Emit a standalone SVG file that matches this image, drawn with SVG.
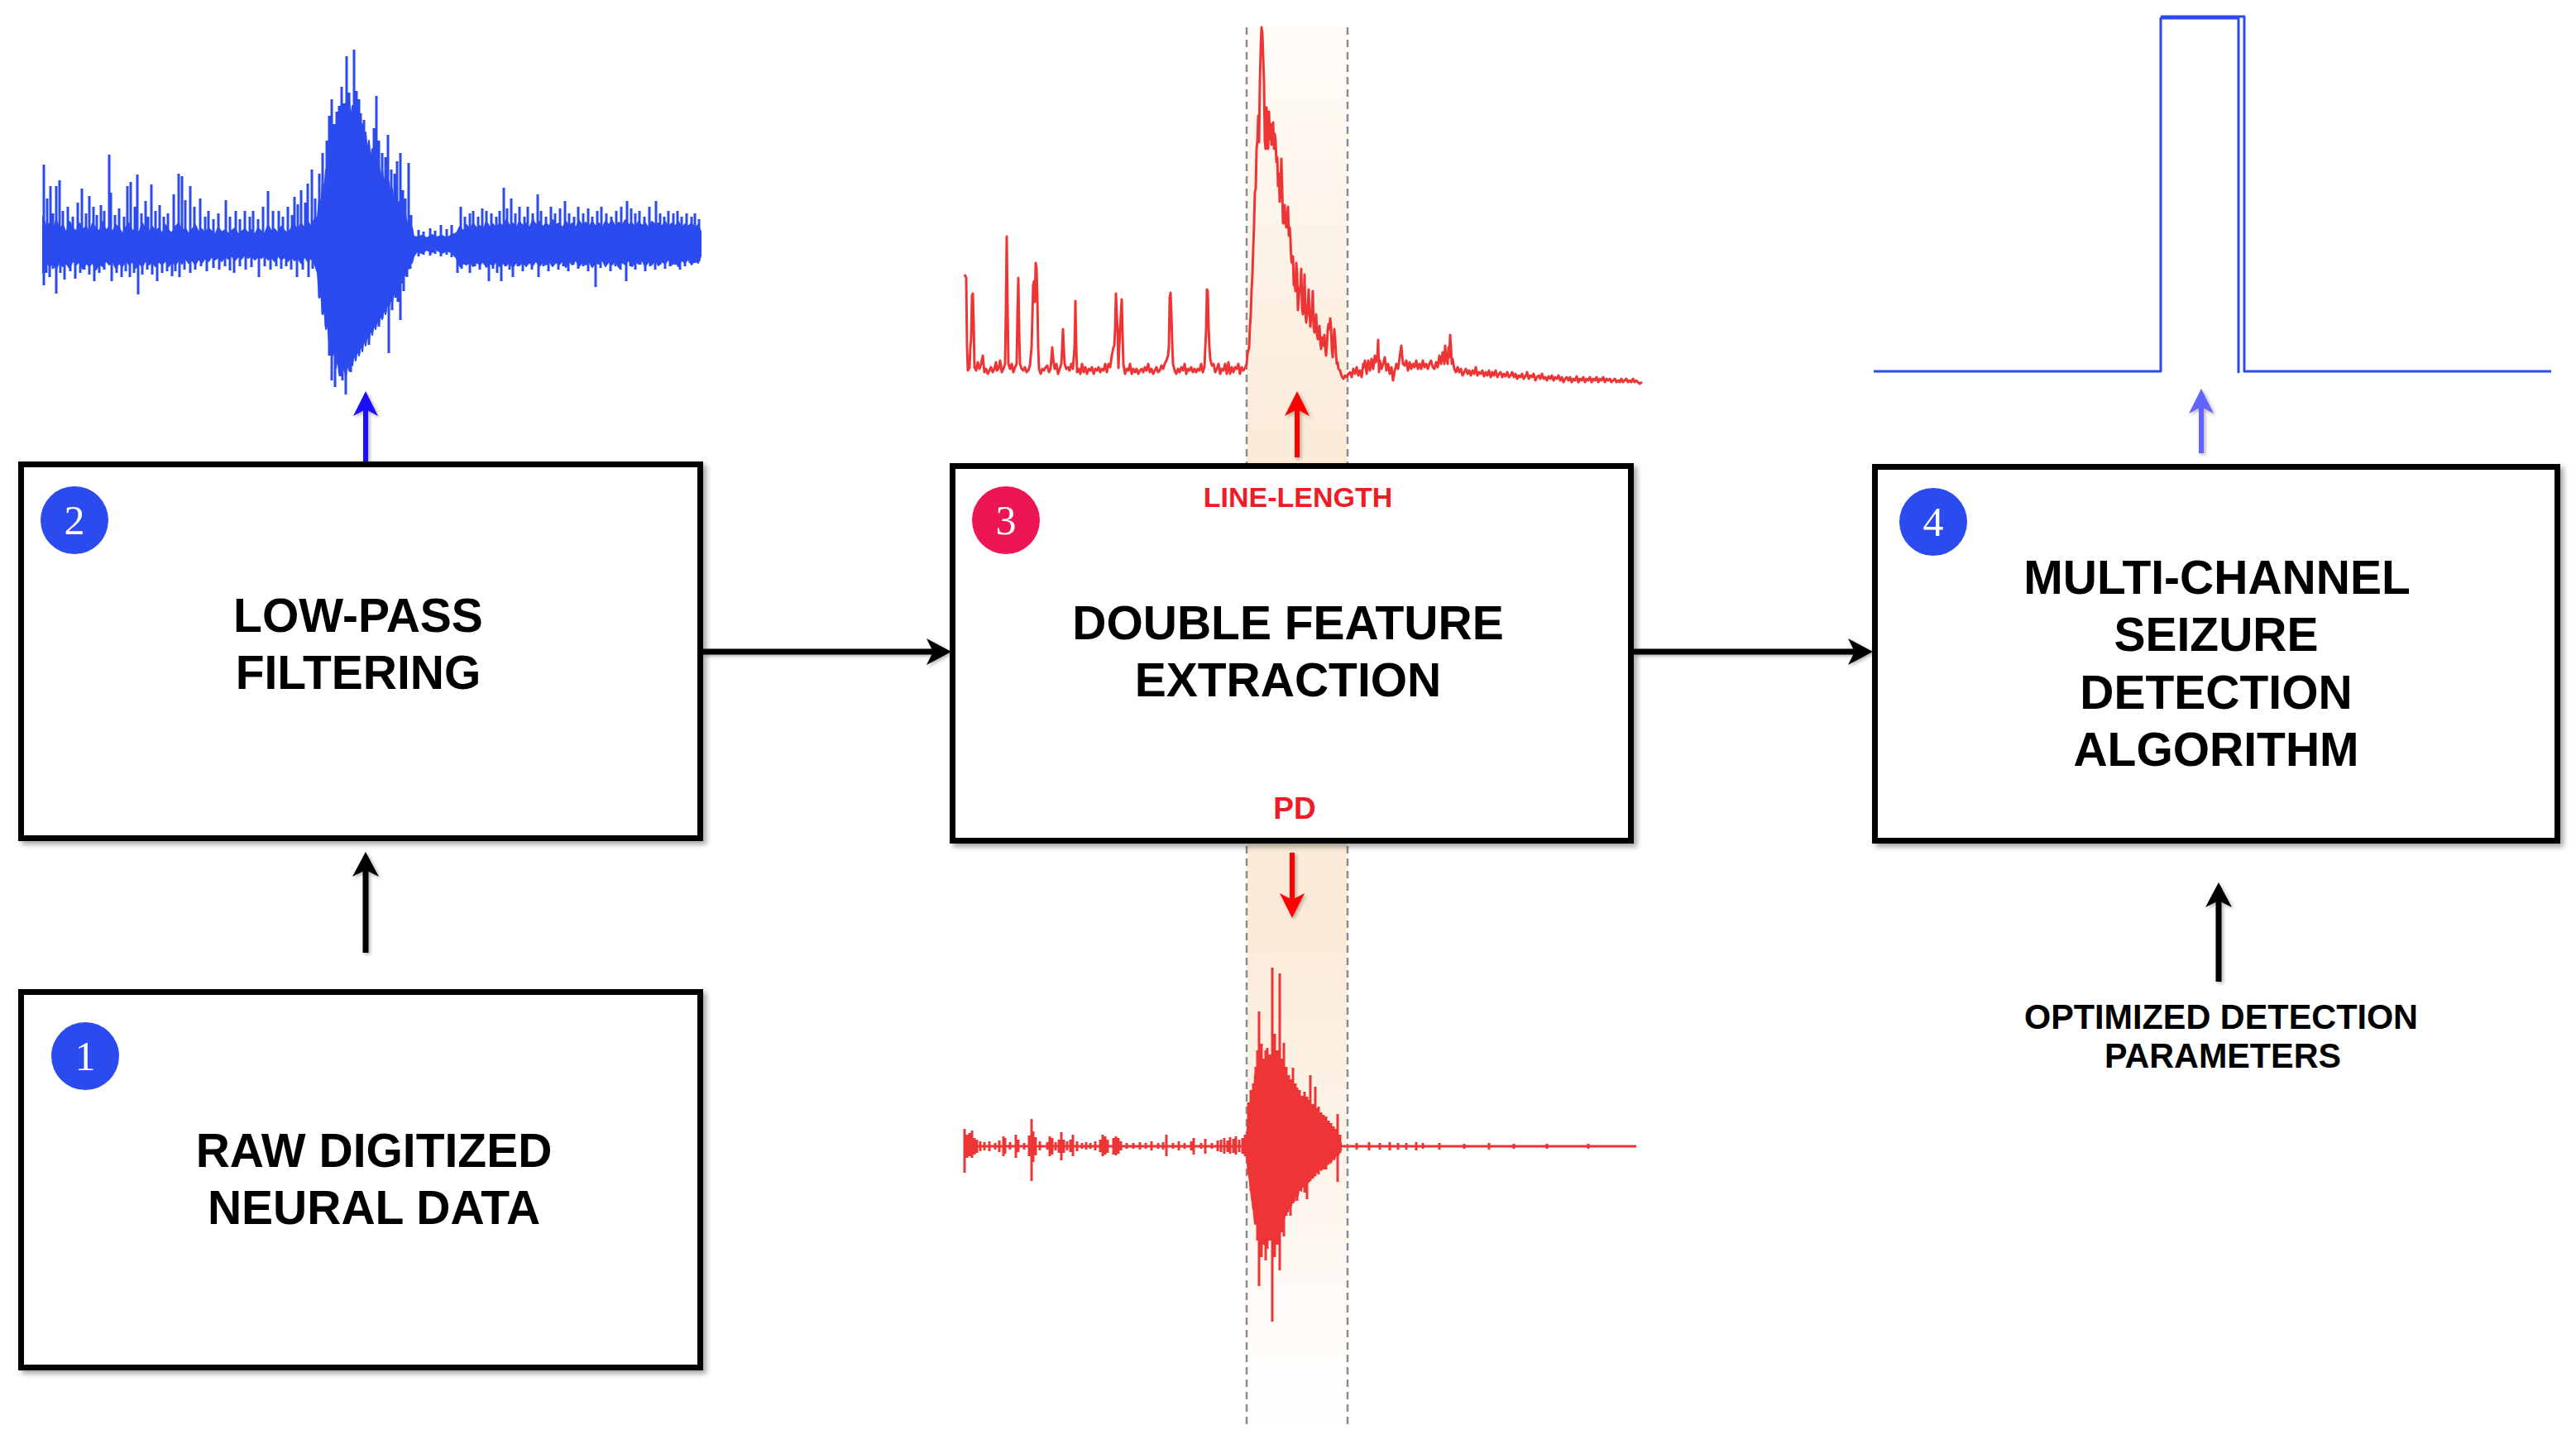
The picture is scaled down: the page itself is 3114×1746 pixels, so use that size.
<svg xmlns="http://www.w3.org/2000/svg" width="3114" height="1746" viewBox="0 0 3114 1746">
<defs>
<style>
.box{fill:#fff;stroke:#000;stroke-width:7}
.lbl{font-family:"Liberation Sans",Arial,sans-serif;font-weight:bold;font-size:57px;text-anchor:middle;fill:#000}
.sub{font-family:"Liberation Sans",Arial,sans-serif;font-weight:bold;text-anchor:middle;fill:#EE1C25}
.num{font-family:"Liberation Serif","Times New Roman",serif;font-size:50px;fill:#fff;text-anchor:middle}
.conn{fill:none;stroke:#000;stroke-width:7}
.wblue{fill:none;stroke:#2B4BEE;stroke-width:3;stroke-linejoin:round}
.wred{fill:none;stroke:#EE3535;stroke-width:3;stroke-linejoin:round}
.dash{stroke:#8C8C8C;stroke-width:2.5;stroke-dasharray:9 6}
</style>
<filter id="sh" x="-5%" y="-5%" width="110%" height="110%">
<feDropShadow dx="4" dy="4" stdDeviation="3" flood-color="#000" flood-opacity="0.35"/>
</filter>
<filter id="sh2" x="-20%" y="-20%" width="140%" height="140%">
<feDropShadow dx="2" dy="2" stdDeviation="2" flood-color="#000" flood-opacity="0.3"/>
</filter>
<linearGradient id="band" x1="0" y1="33" x2="0" y2="1724" gradientUnits="userSpaceOnUse">
<stop offset="0" stop-color="#FFFCF8"/>
<stop offset="0.3" stop-color="#FBEBD9"/>
<stop offset="0.65" stop-color="#FBEBD9"/>
<stop offset="1" stop-color="#FFFFFF"/>
</linearGradient>
<marker id="ahK" markerUnits="userSpaceOnUse" viewBox="-32 -17 34 34" refX="-20" refY="0" markerWidth="34" markerHeight="34" orient="auto"><path d="M0,0 L-30,-16 L-22,0 L-30,16 Z" fill="#000"/></marker>
<marker id="ahB" markerUnits="userSpaceOnUse" viewBox="-32 -17 34 34" refX="-20" refY="0" markerWidth="34" markerHeight="34" orient="auto"><path d="M0,0 L-30,-15 L-22,0 L-30,15 Z" fill="#1A0DFF"/></marker>
<marker id="ahR" markerUnits="userSpaceOnUse" viewBox="-32 -17 34 34" refX="-20" refY="0" markerWidth="34" markerHeight="34" orient="auto"><path d="M0,0 L-30,-15 L-22,0 L-30,15 Z" fill="#FF0000"/></marker>
<marker id="ahL" markerUnits="userSpaceOnUse" viewBox="-32 -17 34 34" refX="-20" refY="0" markerWidth="34" markerHeight="34" orient="auto"><path d="M0,0 L-30,-15 L-22,0 L-30,15 Z" fill="#6464FF"/></marker>
</defs>
<rect width="3114" height="1746" fill="#fff"/>

<g id="feature-band">
<rect x="1507" y="33" width="122" height="1691" fill="url(#band)"/>
<line class="dash" x1="1507" y1="33" x2="1507" y2="1724"/>
<line class="dash" x1="1629" y1="33" x2="1629" y2="1724"/>
</g>

<g id="wave-filtered">
<polygon fill="#2B4BEE" stroke="#2B4BEE" stroke-width="2" stroke-linejoin="round" points="52,262 56,276 60,270 64,280 68,266 72,278 76,272 80,282 84,268 88,276 92,280 96,270 100,278 104,274 108,282 112,270 116,276 120,280 124,268 128,279 132,274 136,281 140,272 144,276 148,283 152,275 156,270 160,280 164,276 168,282 172,270 176,278 180,281 184,274 188,280 192,276 196,283 200,272 204,279 208,282 212,274 216,270 220,280 224,276 228,283 232,278 236,272 240,281 244,277 248,283 252,276 256,280 260,284 264,275 268,281 272,278 276,283 280,279 284,276 288,284 292,280 296,277 300,282 304,278 308,284 312,276 316,280 320,283 324,272 328,280 332,277 336,282 340,274 344,279 348,283 352,276 356,272 360,279 364,270 368,276 372,268 376,274 380,266 384,262 386,240 388,250 390,220 392,232 394,205 396,215 398,190 400,200 402,170 404,185 406,160 408,175 410,150 412,165 414,140 416,155 418,125 420,140 422,120 424,145 426,128 428,150 430,135 432,155 434,140 436,165 438,150 440,175 442,160 444,185 446,170 448,195 450,180 452,205 454,190 456,210 458,198 460,218 462,205 464,225 466,212 468,232 470,220 472,240 474,228 476,248 478,236 480,255 482,244 484,262 486,250 488,268 490,258 492,275 494,265 496,282 498,275 500,286 504,287 510,285 516,288 522,284 528,287 534,285 540,288 546,284 552,282 556,274 560,280 564,272 568,278 572,270 576,276 580,273 584,278 588,268 592,275 596,271 600,276 604,270 608,274 612,266 616,273 620,270 624,276 628,268 632,273 636,270 640,276 644,266 648,272 652,268 656,275 660,270 664,274 668,266 672,272 676,270 680,276 684,268 688,274 692,270 696,276 700,267 704,273 708,269 712,275 716,268 720,274 724,270 728,276 732,268 736,272 740,267 744,275 748,269 752,273 756,266 760,272 764,270 768,276 772,268 776,273 780,270 784,276 788,268 792,272 796,270 800,274 804,268 808,275 812,270 816,274 820,268 824,276 828,271 832,274 836,270 840,276 844,272 847,280 847,310 844,318 840,314 836,320 832,313 828,318 824,314 820,322 816,316 812,320 808,313 804,319 800,316 796,321 792,314 788,320 784,316 780,322 776,314 772,319 768,316 764,322 760,314 756,320 752,317 748,323 744,315 740,320 736,316 732,322 728,314 724,319 720,317 716,323 712,315 708,320 704,317 700,322 696,314 692,320 688,316 684,323 680,315 676,320 672,317 668,322 664,315 660,320 656,317 652,322 648,315 644,321 640,317 636,322 632,316 628,321 624,317 620,323 616,316 612,321 608,318 604,322 600,316 596,321 592,318 588,323 584,316 580,320 576,317 572,322 568,316 564,320 560,318 556,322 552,312 546,305 540,303 534,306 528,302 522,305 516,302 510,306 504,304 500,310 498,318 496,314 494,325 492,320 490,333 488,328 486,342 484,336 482,350 480,344 478,358 476,352 474,366 472,360 470,372 468,366 466,380 464,372 462,386 460,378 458,392 456,385 454,398 452,390 450,405 448,396 446,412 444,402 442,418 440,408 438,425 436,414 434,430 432,420 430,436 428,426 426,442 424,432 422,448 420,438 418,455 416,442 414,450 412,438 410,452 408,430 406,445 404,420 402,430 400,405 398,415 396,390 394,398 392,372 390,380 388,352 386,360 384,330 380,318 376,312 372,316 368,310 364,318 360,312 356,315 352,310 348,316 344,311 340,314 336,309 332,316 328,311 324,314 320,308 316,312 312,310 308,314 304,309 300,312 296,308 292,313 288,310 284,315 280,309 276,313 272,310 268,316 264,311 260,314 256,310 252,316 248,312 244,318 240,313 236,320 232,314 228,318 224,312 220,319 216,314 212,320 208,316 204,322 200,315 196,320 192,316 188,322 184,317 180,320 176,315 172,322 168,318 164,324 160,316 156,320 152,314 148,322 144,318 140,324 136,316 132,320 128,315 124,322 120,318 116,326 112,317 108,322 104,318 100,325 96,316 92,320 88,315 84,324 80,318 76,322 72,316 68,325 64,318 60,322 56,316 52,330"/>
<path class="wblue" d="M53,288V199M57,288V240M61,288V225M64,288V258M68,288V225M72,288V218M76,288V255M82,288V250M88,288V262M94,288V245M99,288V228M104,288V258M108,288V237M113,288V250M117,288V260M122,288V248M126,288V255M132,288V187M134,288V233M139,288V260M144,288V252M150,288V262M154,288V225M158,288V220M163,288V250M166,288V211M171,288V258M176,288V243M179,288V262M183,288V223M188,288V255M193,288V248M198,288V262M203,288V258M210,288V235M216,288V210M220,288V213M224,288V242M230,288V225M235,288V250M242,288V240M248,288V262M252,288V255M258,288V265M264,288V258M273,288V242M278,288V262M285,288V255M290,288V265M296,288V255M302,288V262M306,288V255M312,288V265M318,288V250M324,288V231M330,288V255M337,288V255M342,288V262M348,288V250M353,288V260M356,288V238M360,288V247M364,288V230M369,288V245M372,288V222M377,288V205M381,288V240
M53,302V345M56,302V330M60,302V335M64,302V325M68,302V355M73,302V330M78,302V338M85,302V328M91,302V337M97,302V330M102,302V326M108,302V332M114,302V340M120,302V330M126,302V326M135,302V340M141,302V330M147,302V335M152,302V328M157,302V335M162,302V330M167,302V356M172,302V332M178,302V326M184,302V332M190,302V340M196,302V330M202,302V328M208,302V334M212,302V328M217,302V335M223,302V326M230,302V330M236,302V326M243,302V322M250,302V328M258,302V324M265,302V326M272,302V322M278,302V327M283,302V330M290,302V322M297,302V326M304,302V323M313,302V335M320,302V322M327,302V326M334,302V322M340,302V325M346,302V322M352,302V326M359,302V335M366,302V326M373,302V335M378,302V325
M386,295V210M390,295V185M395,295V170M398,295V140M401,295V120M404,295V150M407,295V135M410,295V128M413,295V105M416,295V125M419,295V68M422,295V112M425,295V140M428,295V60M431,295V110M434,295V120M436,295V137M440,295V145M444,295V175M448,295V190M452,295V155M455,295V116M458,295V170M462,295V185M466,295V190M469,295V163M473,295V205M477,295V210M480,295V195M484,295V185M487,295V230M490,295V240M494,295V197M497,295V260
M386,295V360M390,295V380M394,295V395M398,295V430M401,295V460M405,295V468M408,295V440M411,295V455M414,295V460M418,295V477M421,295V440M424,295V450M427,295V430M431,295V410M434,295V428M438,295V405M442,295V412M446,295V417M450,295V400M454,295V392M458,295V395M462,295V385M466,295V378M470,295V427M474,295V375M478,295V360M481,295V365M484,295V387M488,295V352M492,295V335M496,295V325
M506,278V310M512,280V308M520,276V309M526,279V307M533,272V310M540,277V308M546,272V311
M557,288V250M562,288V262M568,288V258M572,288V255M578,288V262M583,288V252M588,288V255M594,288V258M600,288V262M604,288V255M609,288V227M613,288V252M618,288V240M623,288V258M628,288V250M634,288V262M638,288V250M644,288V258M650,288V235M654,288V255M660,288V262M666,288V250M671,288V258M677,288V252M683,288V243M688,288V258M694,288V262M699,288V250M705,288V258M711,288V252M716,288V262M722,288V255M727,288V250M733,288V258M739,288V262M745,288V255M751,288V250M758,288V243M763,288V252M768,288V258M773,288V255M779,288V262M785,288V250M793,288V243M798,288V258M803,288V262M808,288V255M814,288V258M819,288V255M824,288V262M830,288V258M836,288V262M840,288V258M845,288V265
M553,302V330M558,302V325M563,302V320M568,302V330M574,302V322M580,302V326M586,302V320M591,302V340M596,302V325M601,302V330M606,302V340M611,302V322M616,302V326M620,302V335M626,302V322M632,302V328M637,302V320M643,302V326M651,302V335M657,302V322M663,302V328M669,302V320M675,302V326M681,302V322M687,302V328M693,302V320M699,302V325M705,302V322M711,302V328M716,302V322M720,302V347M726,302V324M732,302V320M738,302V328M744,302V322M750,302V326M757,302V340M762,302V322M768,302V326M774,302V320M780,302V328M786,302V322M792,302V326M798,302V320M804,302V325M810,302V322M816,302V320M822,302V326M828,302V322M834,302V318M840,302V318M845,302V316"/>
</g>

<g id="wave-line-length">
<polyline class="wred" points="1166,332 1168,336 1169,420 1170,448 1172,445 1173,420 1174,410 1175,358 1176,355 1177,390 1178,444 1180,448 1182,438 1184,446 1186,440 1188,430 1190,450 1192,446 1194,452 1196,448 1198,444 1200,450 1202,446 1204,438 1205,448 1207,446 1209,436 1211,450 1213,446 1215,440 1216,372 1217,286 1218,372 1219,440 1221,446 1223,440 1225,450 1227,444 1229,440 1230,380 1231,336 1232,400 1233,440 1235,446 1237,448 1239,444 1241,450 1243,448 1245,442 1247,420 1249,344 1250,340 1251,365 1252,318 1253,324 1254,360 1255,420 1256,446 1258,452 1260,446 1262,448 1264,444 1266,442 1268,450 1270,446 1272,420 1273,432 1274,440 1275,446 1277,440 1279,452 1281,446 1283,440 1284,420 1285,398 1286,422 1287,440 1289,446 1291,444 1293,448 1295,440 1297,446 1299,420 1300,364 1301,420 1302,450 1304,446 1306,452 1308,440 1310,450 1312,444 1314,452 1316,446 1318,448 1320,444 1322,452 1324,446 1326,448 1328,444 1330,450 1332,446 1334,448 1336,440 1338,450 1340,440 1342,444 1344,430 1346,420 1347,418 1348,398 1349,355 1350,380 1351,400 1352,445 1353,420 1354,398 1355,380 1356,362 1357,405 1358,440 1360,452 1362,446 1364,448 1366,440 1368,452 1370,446 1372,450 1374,446 1376,452 1378,448 1380,446 1382,450 1384,444 1386,448 1388,440 1390,450 1392,446 1394,452 1396,448 1398,444 1400,450 1402,448 1404,442 1406,446 1408,440 1410,436 1412,430 1413,420 1414,360 1415,354 1416,380 1417,415 1418,440 1420,448 1422,452 1424,446 1426,450 1428,444 1430,448 1432,440 1434,452 1436,446 1438,448 1440,444 1442,450 1444,446 1446,450 1448,446 1450,448 1452,440 1454,450 1456,444 1457,420 1458,400 1459,350 1460,352 1461,395 1462,420 1463,434 1465,442 1467,440 1469,450 1471,446 1473,440 1475,452 1477,446 1479,448 1481,440 1483,452 1485,438 1487,452 1489,444 1491,450 1493,444 1495,446 1497,440 1499,452 1501,444 1503,448 1505,445 1507,440 1508,428 1510,420 1511,395 1512,380 1513,350 1514,332 1515,300 1516,270 1517,232 1518,228 1519,180 1520,170 1521,140 1522,172 1523,100 1524,60 1525,33 1526,40 1527,70 1528,100 1529,170 1530,180 1531,130 1532,160 1533,180 1534,135 1535,168 1536,150 1537,175 1538,160 1539,148 1540,180 1541,162 1542,170 1543,196 1544,190 1545,225 1546,210 1547,244 1548,220 1549,192 1550,230 1551,270 1552,262 1553,248 1554,270 1555,275 1556,262 1557,250 1558,285 1559,275 1560,290 1561,315 1562,318 1563,310 1564,345 1565,340 1566,352 1567,318 1568,330 1569,375 1570,360 1571,348 1572,350 1573,325 1574,372 1575,380 1576,368 1577,332 1578,376 1579,390 1580,380 1581,368 1582,350 1583,378 1584,395 1585,385 1586,372 1587,352 1588,395 1589,402 1590,398 1591,380 1592,404 1593,410 1594,400 1595,394 1596,412 1597,422 1598,408 1599,418 1600,415 1601,405 1602,420 1603,430 1604,418 1605,400 1606,392 1607,398 1608,385 1609,395 1610,422 1611,432 1612,412 1613,398 1614,410 1615,428 1616,440 1617,438 1618,446 1620,448 1622,455 1624,458 1626,454 1628,456 1630,452 1632,450 1634,456 1636,446 1638,452 1640,444 1642,454 1644,448 1646,456 1648,440 1649,444 1650,436 1652,452 1654,436 1656,448 1658,434 1660,446 1662,430 1663,438 1665,432 1666,411 1667,450 1668,436 1670,446 1672,440 1674,432 1676,448 1678,440 1680,452 1682,444 1684,460 1686,448 1688,440 1690,446 1692,432 1694,418 1695,430 1696,440 1698,442 1700,436 1702,448 1704,438 1706,446 1708,440 1710,444 1712,436 1714,446 1716,440 1718,446 1720,436 1722,444 1724,440 1726,446 1728,440 1730,436 1732,444 1734,446 1736,438 1738,444 1740,430 1742,440 1744,426 1746,440 1747,418 1748,432 1750,440 1751,420 1752,432 1753,405 1754,420 1755,440 1756,434 1758,446 1760,450 1762,444 1764,450 1766,446 1768,454 1770,450 1772,446 1774,452 1776,448 1778,454 1780,448 1782,452 1784,444 1786,454 1788,450 1790,452 1792,448 1794,455 1796,450 1798,454 1800,448 1802,456 1804,450 1806,454 1808,448 1810,456 1812,452 1814,450 1816,456 1818,452 1820,455 1822,450 1824,456 1826,454 1828,450 1830,456 1832,452 1834,458 1836,454 1838,456 1840,452 1842,458 1844,455 1846,450 1848,458 1850,454 1852,456 1854,452 1856,460 1858,456 1860,454 1862,458 1864,452 1866,458 1868,456 1870,460 1872,455 1874,458 1876,454 1878,460 1880,456 1882,458 1884,454 1886,460 1888,456 1890,462 1892,458 1894,456 1896,460 1898,456 1900,462 1902,458 1904,460 1906,455 1908,462 1910,458 1912,460 1914,456 1916,462 1918,458 1920,460 1922,456 1924,462 1926,458 1928,460 1930,456 1932,462 1934,458 1936,460 1938,456 1940,462 1942,458 1944,460 1946,458 1948,462 1950,460 1952,458 1954,462 1956,460 1958,462 1960,458 1962,462 1964,460 1966,458 1968,462 1970,460 1972,462 1974,458 1976,462 1978,460 1980,462 1982,464 1985,462"/>
</g>

<g id="wave-pd">
<path class="wred" d="M1166,1386H1978"/>
<polygon fill="#EE3535" stroke="#EE3535" stroke-width="2" stroke-linejoin="round" points="1507,1376 1509,1350 1511,1362 1513,1325 1515,1340 1517,1300 1519,1318 1521,1285 1523,1300 1525,1278 1527,1296 1529,1282 1531,1300 1533,1285 1535,1305 1537,1290 1539,1310 1541,1296 1543,1314 1545,1300 1547,1318 1549,1305 1551,1322 1553,1310 1555,1328 1557,1316 1559,1333 1561,1322 1563,1338 1565,1328 1567,1342 1569,1334 1571,1346 1573,1338 1575,1350 1577,1342 1579,1352 1581,1346 1583,1356 1585,1350 1587,1360 1589,1354 1591,1362 1593,1358 1595,1366 1597,1360 1599,1368 1601,1364 1603,1370 1605,1366 1607,1372 1609,1368 1611,1374 1613,1372 1615,1377 1617,1374 1619,1379 1621,1382 1621,1390 1619,1394 1617,1398 1615,1396 1613,1402 1611,1400 1609,1406 1607,1403 1605,1408 1603,1405 1601,1412 1599,1408 1597,1415 1595,1410 1593,1418 1591,1414 1589,1422 1587,1416 1585,1425 1583,1420 1581,1430 1579,1424 1577,1436 1575,1428 1573,1440 1571,1432 1569,1446 1567,1438 1565,1452 1563,1442 1561,1458 1559,1448 1557,1465 1555,1455 1553,1472 1551,1462 1549,1478 1547,1468 1545,1484 1543,1474 1541,1490 1539,1480 1537,1494 1535,1484 1533,1500 1531,1490 1529,1505 1527,1494 1525,1500 1523,1488 1521,1492 1519,1476 1517,1480 1515,1460 1513,1448 1511,1430 1509,1415 1507,1398"/>
<path class="wred" stroke-width="2.5" d="M1166,1365V1418M1169,1372V1400M1172,1370V1398M1175,1367V1400M1178,1376V1396M1181,1378V1394M1185,1380V1392M1190,1381V1391M1196,1380V1392M1203,1382V1390M1208,1379V1393M1213,1374V1398M1215,1376V1395M1221,1381V1390M1228,1372V1400M1231,1378V1393M1238,1382V1390M1244,1373V1398M1247,1353V1428M1249,1368V1405M1252,1375V1397M1257,1380V1391M1266,1381V1390M1269,1374V1398M1272,1376V1396M1276,1381V1391M1280,1378V1394M1283,1369V1403M1286,1378V1394M1290,1380V1391M1294,1378V1393M1297,1372V1398M1302,1380V1392M1308,1382V1389M1313,1381V1390M1318,1382V1389M1324,1380V1391M1330,1378V1393M1333,1372V1398M1336,1374V1396M1339,1378V1394M1346,1376V1396M1349,1374V1397M1352,1376V1395M1355,1380V1391M1362,1382V1389M1370,1382V1389M1378,1381V1390M1385,1382V1389M1392,1380V1391M1400,1382V1389M1406,1381V1390M1410,1372V1398M1418,1382V1389M1425,1380V1391M1432,1382V1389M1440,1380V1391M1443,1376V1396M1452,1382V1389M1457,1377V1395M1465,1382V1389M1472,1379V1392M1476,1378V1393M1480,1376V1395M1484,1379V1393M1487,1375V1395M1491,1377V1394M1494,1374V1396M1498,1378V1393M1502,1376V1395M1505,1372V1398
M1509,1333V1420M1512,1318V1440M1515,1310V1462M1518,1290V1470M1520,1270V1500M1522,1223V1555M1525,1262V1520M1528,1280V1505M1530,1270V1524M1532,1267V1510M1535,1275V1500M1538,1170V1598M1541,1250V1520M1544,1270V1505M1547,1177V1536M1550,1280V1490M1552,1261V1495M1555,1290V1470M1558,1300V1462M1560,1305V1470M1563,1291V1455M1566,1310V1445M1568,1315V1452M1571,1318V1440M1574,1325V1436M1577,1320V1442M1580,1326V1450M1582,1330V1430M1584,1300V1428M1587,1335V1425M1590,1314V1422M1592,1340V1418M1594,1338V1420M1597,1345V1415M1600,1348V1414M1603,1350V1414M1606,1355V1408M1609,1358V1404M1612,1362V1400M1615,1365V1398M1617,1347V1429M1620,1372V1394
M1640,1382V1390M1655,1381V1391M1668,1382V1390M1680,1381V1391M1690,1382V1390M1700,1382V1390M1712,1381V1391M1720,1382V1389M1740,1382V1390M1770,1383V1389M1800,1382V1390M1830,1383V1389M1870,1383V1389M1920,1383V1389"/>
</g>

<g id="wave-detection">
<path class="wblue" d="M2265,449H2612V22H2706V451"/>
<path class="wblue" d="M2612,20H2713V449H3084"/>
</g>

<g id="connectors" filter="url(#sh2)">
<path class="conn" d="M442,1152V1050" marker-end="url(#ahK)"/>
<path class="conn" d="M850,788H1130" marker-end="url(#ahK)"/>
<path class="conn" d="M1975,788H2244" marker-end="url(#ahK)"/>
<path class="conn" d="M2682,1187V1087" marker-end="url(#ahK)"/>
<path fill="none" stroke="#1A0DFF" stroke-width="6" d="M442,558V493" marker-end="url(#ahB)"/>
<path fill="none" stroke="#FF0000" stroke-width="6" d="M1568,553V493" marker-end="url(#ahR)"/>
<path fill="none" stroke="#FF0000" stroke-width="6" d="M1562,1031V1090" marker-end="url(#ahR)"/>
<path fill="none" stroke="#6464FF" stroke-width="6" d="M2661,548V490" marker-end="url(#ahL)"/>
</g>

<g id="node-1">
<rect class="box" filter="url(#sh)" x="25.5" y="1199.5" width="821" height="454"/>
<circle cx="103" cy="1277" r="41" fill="#2B4BEE"/>
<text class="num" x="103" y="1294">1</text>
<text class="lbl" x="452" y="1411">RAW DIGITIZED</text>
<text class="lbl" x="452" y="1480">NEURAL DATA</text>
</g>

<g id="node-2">
<rect class="box" filter="url(#sh)" x="25.5" y="561.5" width="821" height="452"/>
<circle cx="90" cy="629" r="41" fill="#2B4BEE"/>
<text class="num" x="90" y="646">2</text>
<text class="lbl" x="433" y="764">LOW-PASS</text>
<text class="lbl" x="433" y="833">FILTERING</text>
</g>

<g id="node-3">
<rect class="box" filter="url(#sh)" x="1151.5" y="563.5" width="820" height="453"/>
<circle cx="1216" cy="629" r="41" fill="#EE1554"/>
<text class="num" x="1216" y="646">3</text>
<text class="sub" x="1569" y="613" font-size="34">LINE-LENGTH</text>
<text class="lbl" x="1557" y="773">DOUBLE FEATURE</text>
<text class="lbl" x="1557" y="842">EXTRACTION</text>
<text class="sub" x="1565" y="990" font-size="37">PD</text>
</g>

<g id="node-4">
<rect class="box" filter="url(#sh)" x="2266.5" y="564.5" width="825" height="452"/>
<circle cx="2337" cy="631" r="41" fill="#2B4BEE"/>
<text class="num" x="2337" y="648">4</text>
<text class="lbl" x="2680" y="718">MULTI-CHANNEL</text>
<text class="lbl" x="2679" y="787">SEIZURE</text>
<text class="lbl" x="2679" y="857">DETECTION</text>
<text class="lbl" x="2679" y="926">ALGORITHM</text>
</g>

<g id="params">
<text class="lbl" style="font-size:42px" x="2685" y="1244" textLength="476" lengthAdjust="spacingAndGlyphs">OPTIMIZED DETECTION</text>
<text class="lbl" style="font-size:42px" x="2687" y="1291" textLength="286" lengthAdjust="spacingAndGlyphs">PARAMETERS</text>
</g>
</svg>
